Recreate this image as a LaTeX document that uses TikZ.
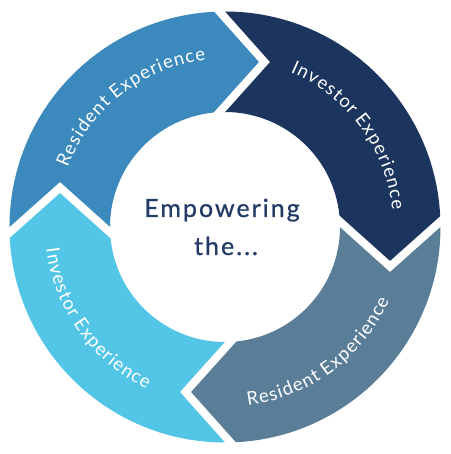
\documentclass[tikz,border=0pt]{standalone}
\usepackage{fontspec}
\setmainfont{Lato}
\usetikzlibrary{decorations.text}
\definecolor{cMid}{HTML}{3C89BD}
\definecolor{cNavy}{HTML}{1C355E}
\definecolor{cSlate}{HTML}{5B7E98}
\definecolor{cCyan}{HTML}{53C6E8}
\definecolor{cText}{HTML}{243B65}
\newcommand\ringseg[2]{%
  \fill[#1] ({91.46+(#2)}:215.5) arc[start angle={91.46+(#2)}, end angle={1.46+(#2)}, radius=215.5]
    -- ({-13.46+(#2)}:169.66) -- ({2.74+(#2)}:115)
    arc[start angle={2.74+(#2)}, end angle={92.74+(#2)}, radius=115]
    -- ({76.54+(#2)}:169.66) -- cycle;}
\newcommand\ringcut[1]{%
  \draw[gapline] ({91.46+(#1)}:215.5) -- ({76.54+(#1)}:169.66) -- ({92.74+(#1)}:115);}
\newcommand\lsp{\kern1.1pt}
\tikzset{
  gapline/.style={white, line width=8pt, line join=miter, shorten <=-8pt, shorten >=-8pt},
  ringtext/.style={decorate, decoration={text along path, text align=center, text color=white, text={#1}}},
  centertext/.style={text=cText, font=\fontsize{25}{30}\selectfont\addfontfeature{LetterSpace=8,FakeBold=0.8}, anchor=base, inner sep=0pt}
}
\begin{document}
\begin{tikzpicture}[x=1pt,y=1pt]
\fill[white] (-225,-227) rectangle (225,227);
\useasboundingbox (-225,-227) rectangle (225,227);
\ringseg{cMid}{90}
\ringseg{cNavy}{0}
\ringseg{cSlate}{-90}
\ringseg{cCyan}{-180}
\ringcut{0}
\ringcut{-90}
\ringcut{-180}
\ringcut{-270}
\path[ringtext={|\fontsize{18.5}{18.5}\selectfont|{R\lsp}{e\lsp}{s\lsp}{i\lsp}{d\lsp}{e\lsp}{n\lsp}{t\lsp} {E\lsp}{x\lsp}{p\lsp}{e\lsp}{r\lsp}{i\lsp}{e\lsp}{n\lsp}{c\lsp}{e}}]
  (168:168) arc[start angle=168, end angle=88, radius=168];
\path[ringtext={|\fontsize{18.5}{18.5}\selectfont|{I\lsp}{n\lsp}{v\lsp}{e\lsp}{s\lsp}{t\lsp}{o\lsp}{r\lsp} {E\lsp}{x\lsp}{p\lsp}{e\lsp}{r\lsp}{i\lsp}{e\lsp}{n\lsp}{c\lsp}{e}}]
  (76.4:168) arc[start angle=76.4, end angle=-3.6, radius=168];
\path[ringtext={|\fontsize{18.5}{18.5}\selectfont|{R\lsp}{e\lsp}{s\lsp}{i\lsp}{d\lsp}{e\lsp}{n\lsp}{t\lsp} {E\lsp}{x\lsp}{p\lsp}{e\lsp}{r\lsp}{i\lsp}{e\lsp}{n\lsp}{c\lsp}{e}}]
  (-93.4:180) arc[start angle=-93.4, end angle=-13.4, radius=180];
\path[ringtext={|\fontsize{18.5}{18.5}\selectfont|{I\lsp}{n\lsp}{v\lsp}{e\lsp}{s\lsp}{t\lsp}{o\lsp}{r\lsp} {E\lsp}{x\lsp}{p\lsp}{e\lsp}{r\lsp}{i\lsp}{e\lsp}{n\lsp}{c\lsp}{e}}]
  (175.6:180) arc[start angle=175.6, end angle=255.6, radius=180];
\node[centertext] (e1) at (-3,10) {Empowering};
\node[centertext] (e2) at (1,-28) {the...};
\end{tikzpicture}
\end{document}
